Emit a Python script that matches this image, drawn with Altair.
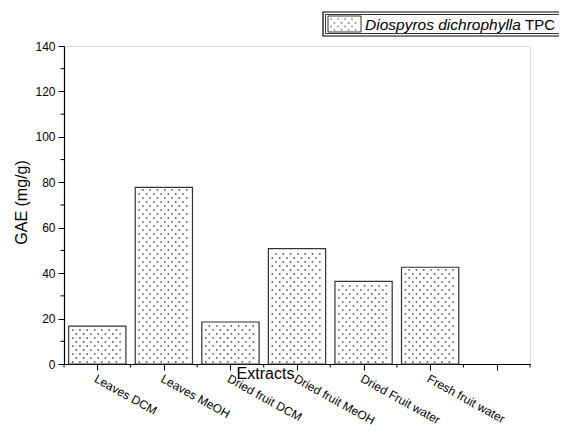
import altair as alt
import pandas as pd

# ---- data ----
categories = ["Leaves DCM", "Leaves MeOH", "Dried fruit DCM", "Dried fruit MeOH",
              "Dried Fruit water", "Fresh fruit water"]
gae_values = [16.7, 77.8, 18.5, 50.8, 36.4, 42.6]
y_major_ticks = [0, 20, 40, 60, 80, 100, 120, 140]
y_minor_ticks = [10, 30, 50, 70, 90, 110, 130]
legend_label_italic = "Diospyros dichrophylla"
legend_label_plain = "TPC"

# ---- layout ----
W, H = 466, 318
PAD = {"left": 56, "top": 38, "right": 29, "bottom": 64}
YMAX = 140
N_SLOTS = 7          # six bars + one empty slot on the axis
HALF = 0.43          # half bar width in slot units

bars = pd.DataFrame({
    "idx": list(range(len(categories))),
    "name": categories,
    "value": gae_values,
})
bars["x0"] = bars["idx"] - HALF
bars["x1"] = bars["idx"] + HALF

x_major = list(range(N_SLOTS))
x_minor = [i - 0.5 for i in range(N_SLOTS + 1)]


def dot_texture(df):
    """Stippled fill texture for each bar (pattern only, derived from bar values)."""
    px_x = W / N_SLOTS
    px_y = H / YMAX
    dx = 7.3 / px_x
    dy = 4.0 / px_y
    rows = []
    for _, r in df.iterrows():
        j = 0
        y = 0.9
        while y < r["value"] - 0.6:
            shift = 0 if j % 2 == 0 else dx / 2
            k = 0
            while True:
                xo = -HALF + 0.06 + shift + k * dx
                if xo > HALF - 0.05:
                    break
                rows.append({"x": r["idx"] + xo, "y": y})
                k += 1
            j += 1
            y += dy
    return pd.DataFrame(rows)


dots = dot_texture(bars)

label_expr = " : ".join(
    f"datum.value === {i} ? '{c}'" for i, c in enumerate(categories)) + " : ''"

x_scale = alt.Scale(domain=[-0.5, N_SLOTS - 0.5], nice=False, zero=False)
y_scale = alt.Scale(domain=[0, YMAX], nice=False)

FONT = "Liberation Sans"
x_axis = alt.Axis(
    values=x_major,
    labelExpr=label_expr,
    tickSize=6,
    labelAngle=29, labelAlign="left", labelBaseline="top", labelPadding=3,
    labelFontSize=12, labelFont=FONT, labelColor="black",
    title="Extracts", titleFontSize=16, titleFont=FONT, titleFontWeight="normal",
    titleColor="black", titleX=201, titleY=1, titleAlign="center", titleBaseline="top",
    grid=False, domainColor="black", domainWidth=1.2, tickColor="black", tickWidth=1,
    labelOverlap=False, labelFlush=False,
)
y_axis = alt.Axis(
    values=y_major_ticks,
    tickSize=6,
    labelPadding=3, labelFontSize=12, labelFont=FONT, labelColor="black",
    title="GAE (mg/g)", titleFontSize=16, titleFont=FONT, titleFontWeight="normal",
    titleColor="black", titleX=-43, titleY=H / 2 - 3, titleAngle=-90, titleAlign="center",
    titleBaseline="middle",
    grid=False, domainColor="black", domainWidth=1.2, tickColor="black", tickWidth=1,
    labelOverlap=False, labelFlush=False,
)

bar_layer = alt.Chart(bars).mark_rect(fill="white", stroke="#333333", strokeWidth=1.2).encode(
    x=alt.X("x0:Q", scale=x_scale, axis=x_axis),
    x2="x1:Q",
    y=alt.Y("value:Q", scale=y_scale, axis=y_axis),
    y2=alt.datum(0),
)

dot_layer = alt.Chart(dots).mark_square(size=2.6, color="#555555", opacity=1).encode(
    x=alt.X("x:Q", scale=x_scale),
    y=alt.Y("y:Q", scale=y_scale),
)

# minor ticks (shorter), placed through the scales
x_minor_layer = alt.Chart(pd.DataFrame({"t": x_minor})).mark_rule(
    color="black", strokeWidth=1).encode(
    x=alt.X("t:Q", scale=x_scale), y=alt.value(H), y2=alt.value(H + 3.5))
y_minor_layer = alt.Chart(pd.DataFrame({"t": y_minor_ticks})).mark_rule(
    color="black", strokeWidth=1).encode(
    y=alt.Y("t:Q", scale=y_scale), x=alt.value(0), x2=alt.value(-3.5))

# ---- manual legend (box, stippled swatch, mixed italic/plain text) ----
one = pd.DataFrame({"k": [0]})
box_outer = alt.Chart(one).mark_rect(fill="white", stroke="black", strokeWidth=1.2).encode(
    x=alt.value(259), x2=alt.value(620), y=alt.value(-34), y2=alt.value(-10))
box_inner = alt.Chart(one).mark_rect(fill="white", stroke="black", strokeWidth=0.8).encode(
    x=alt.value(261.5), x2=alt.value(620), y=alt.value(-31.5), y2=alt.value(-12.5))
swatch = alt.Chart(one).mark_rect(fill="white", stroke="#333333", strokeWidth=1).encode(
    x=alt.value(264), x2=alt.value(297), y=alt.value(-30), y2=alt.value(-14))

sw_rows = []
for j, yy in enumerate([-27, -23, -19.5, -16]):
    off = 0 if j % 2 == 0 else 3.5
    for k in range(5):
        xx = 267 + off + k * 7
        if xx < 295:
            sw_rows.append({"px": xx, "py": yy})
sw_df = pd.DataFrame(sw_rows)
swatch_dots = alt.Chart(sw_df).mark_square(size=2.6, color="#555555").encode(
    x=alt.X("px:Q", scale=None), y=alt.Y("py:Q", scale=None))

text_italic = alt.Chart(one).mark_text(
    align="left", baseline="alphabetic", fontSize=15.5, fontStyle="italic",
    font=FONT, color="black").encode(
    x=alt.value(301), y=alt.value(-16.5), text=alt.value(legend_label_italic))
text_plain = alt.Chart(one).mark_text(
    align="left", baseline="alphabetic", fontSize=15,
    font=FONT, color="black").encode(
    x=alt.value(461), y=alt.value(-16.5), text=alt.value(legend_label_plain))

chart = alt.layer(
    bar_layer, dot_layer, x_minor_layer, y_minor_layer,
    box_outer, box_inner, swatch, swatch_dots, text_italic, text_plain
).properties(
    width=W, height=H,
    padding=PAD,
    autosize=alt.AutoSizeParams(type="none"),
).configure_view(stroke=None).configure(background="white")

chart.save("out.html", embed_options={"renderer": "svg", "actions": False})
